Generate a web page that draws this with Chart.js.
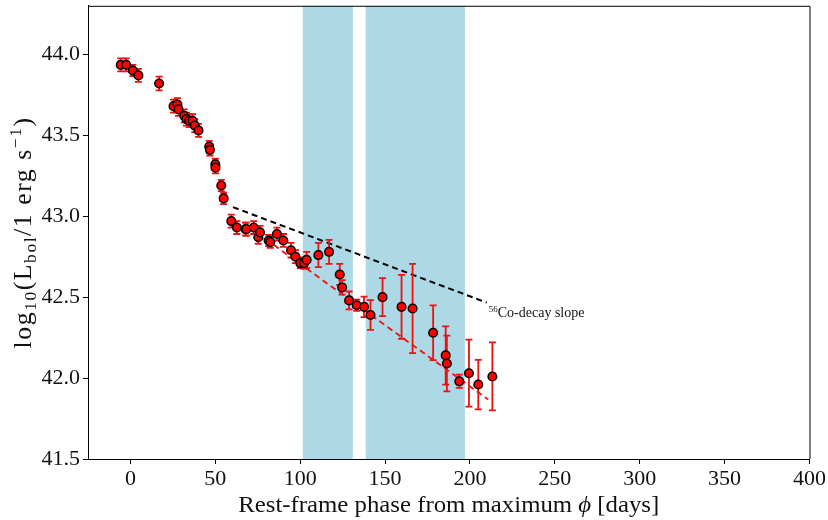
<!DOCTYPE html>
<html>
<head>
<meta charset="utf-8">
<script src="https://cdn.jsdelivr.net/npm/chart.js@4.4.1/dist/chart.umd.min.js"></script>
<style>
    html, body { margin: 0; padding: 0; background: #fff; }
    #wrap { width: 828px; height: 520px; }
</style>
</head>
<body>
<div id="wrap"><canvas id="lcChart"></canvas></div>
<script>
// rest-frame phase (days) and bolometric luminosity
const phase = [-5.7, -2.5, 1.4, 4.7, 16.9, 25.4, 27.7, 28.3, 31.7, 33.0, 34.6, 36.6, 37.9, 40.1,
    46.4, 46.8, 50.0, 50.1, 53.5, 54.9, 59.4, 62.7, 67.8, 68.3, 72.6, 75.3, 76.3, 81.4, 82.4,
    86.3, 90.1, 94.6, 97.2, 100.1, 102.2, 103.8, 110.7, 117.0, 123.3, 124.7, 128.8, 133.3,
    137.6, 141.4, 148.5, 159.7, 166.2, 178.3, 185.7, 186.4, 193.7, 199.4, 204.9, 213.2];
const logL = [43.935, 43.935, 43.90, 43.87, 43.82, 43.68, 43.69, 43.66, 43.62, 43.60, 43.59, 43.59, 43.56, 43.53,
    43.43, 43.41, 43.32, 43.30, 43.19, 43.11, 42.97, 42.93, 42.92, 42.92, 42.93, 42.87, 42.90, 42.85, 42.84,
    42.89, 42.85, 42.79, 42.75, 42.71, 42.71, 42.73, 42.76, 42.78, 42.64, 42.56, 42.48, 42.45,
    42.44, 42.39, 42.50, 42.44, 42.43, 42.28, 42.14, 42.09, 41.98, 42.03, 41.96, 42.01];
const logLErr = [0.04, 0.04, 0.035, 0.04, 0.043, 0.04, 0.04, 0.04, 0.04, 0.04, 0.04, 0.04, 0.04, 0.04,
    0.035, 0.035, 0.035, 0.035, 0.035, 0.035, 0.04, 0.04, 0.04, 0.04, 0.04, 0.04, 0.04, 0.035, 0.035,
    0.04, 0.04, 0.045, 0.04, 0.03, 0.035, 0.05, 0.075, 0.074, 0.065, 0.045, 0.055, 0.035,
    0.063, 0.092, 0.117, 0.197, 0.276, 0.169, 0.18, 0.172, 0.041, 0.207, 0.153, 0.21];

// 56Co decay slope and linear fit to the tail
const coPhase = [60.4, 209.9];
const coLogL = [43.056, 42.466];
const fitPhase = [70.2, 210.8];
const fitLogL = [42.93, 41.867];

// shaded phase ranges
const bandStart = [101.5, 138.6];
const bandEnd = [131, 197];

const xTicks = [0, 50, 100, 150, 200, 250, 300, 350, 400];
const yTicks = [41.5, 42.0, 42.5, 43.0, 43.5, 44.0];

Chart.defaults.font.family = "'Liberation Serif', serif";
Chart.defaults.color = "#111";

const toXY = (xs, ys) => xs.map((x, i) => ({ x: x, y: ys[i] }));

const bandsPlugin = {
    id: "bands",
    beforeDatasetsDraw(chart) {
        const { ctx, chartArea, scales } = chart;
        ctx.save();
        ctx.fillStyle = "#add8e6";
        bandStart.forEach((s, i) => {
            const x0 = scales.x.getPixelForValue(s);
            const x1 = scales.x.getPixelForValue(bandEnd[i]);
            ctx.fillRect(x0, chartArea.top, x1 - x0, chartArea.bottom - chartArea.top);
        });
        ctx.restore();
    }
};

const errorBarPlugin = {
    id: "errorBars",
    beforeDatasetDraw(chart, args) {
        if (args.index !== 0) return;
        const { ctx, scales } = chart;
        ctx.save();
        ctx.strokeStyle = "#f01010";
        ctx.lineWidth = 1.8;
        phase.forEach((p, i) => {
            const x = scales.x.getPixelForValue(p);
            const yTop = scales.y.getPixelForValue(logL[i] + logLErr[i]);
            const yBot = scales.y.getPixelForValue(logL[i] - logLErr[i]);
            ctx.beginPath();
            ctx.moveTo(x, yTop); ctx.lineTo(x, yBot);
            ctx.moveTo(x - 3.5, yTop); ctx.lineTo(x + 3.5, yTop);
            ctx.moveTo(x - 3.5, yBot); ctx.lineTo(x + 3.5, yBot);
            ctx.stroke();
        });
        ctx.restore();
    }
};

// draws a run of text pieces (normal / sub / sup) starting at x, baseline y
function richText(ctx, parts, x, y, draw) {
    let w = 0;
    parts.forEach(p => {
        ctx.font = (p.italic ? "italic " : "") + p.size + "px 'Liberation Serif', serif";
        if (draw) ctx.fillText(p.t, x + w, y + (p.dy || 0));
        w += ctx.measureText(p.t).width;
    });
    return w;
}

const labelsPlugin = {
    id: "labels",
    afterDraw(chart) {
        const { ctx, chartArea, scales } = chart;
        ctx.save();
        // closing frame on top and right
        ctx.strokeStyle = "#000";
        ctx.lineWidth = 1;
        ctx.beginPath();
        ctx.moveTo(chartArea.left, chartArea.top + 0.5);
        ctx.lineTo(chartArea.right + 0.5, chartArea.top + 0.5);
        ctx.lineTo(chartArea.right + 0.5, chartArea.bottom);
        ctx.stroke();

        ctx.fillStyle = "#111";
        ctx.textBaseline = "alphabetic";
        ctx.textAlign = "left";

        // y axis title, letter-spaced to match the TeX width
        ctx.letterSpacing = "1.5px";
        const yParts = [
            { t: "log", size: 25 },
            { t: "10", size: 17, dy: 5 },
            { t: "(L", size: 25 },
            { t: "bol", size: 17, dy: 5 },
            { t: "/1 erg s", size: 25 },
            { t: "\u22121", size: 17, dy: -10 },
            { t: ")", size: 25 }
        ];
        const yw = richText(ctx, yParts, 0, 0, false);
        const stretch = 232 / yw;
        ctx.save();
        ctx.translate(31, (chartArea.top + chartArea.bottom) / 2);
        ctx.rotate(-Math.PI / 2);
        ctx.scale(stretch, 1);
        richText(ctx, yParts, -yw / 2, 0, true);
        ctx.restore();
        ctx.letterSpacing = "0px";

        // x axis title
        const xParts = [
            { t: "Rest-frame phase from maximum ", size: 24 },
            { t: "\u03d5", size: 24, italic: true },
            { t: " [days]", size: 24 }
        ];
        const xw = richText(ctx, xParts, 0, 0, false);
        const xs = 421 / xw;
        ctx.save();
        ctx.translate((chartArea.left + chartArea.right) / 2, 512);
        ctx.scale(xs, 1);
        richText(ctx, xParts, -xw / 2, 0, true);
        ctx.restore();

        // 56Co annotation next to the end of the decay line
        const ax = scales.x.getPixelForValue(coPhase[1]) + 2;
        const ay = scales.y.getPixelForValue(coLogL[1]) + 14;
        richText(ctx, [
            { t: "56", size: 9, dy: -5 },
            { t: "Co-decay slope", size: 14 }
        ], ax, ay, true);
        ctx.restore();
    }
};

new Chart(document.getElementById("lcChart"), {
    data: {
        datasets: [
            {
                type: "scatter",
                label: "Lbol",
                data: toXY(phase, logL),
                backgroundColor: "#ff0000",
                borderColor: "#000",
                borderWidth: 1.5,
                pointRadius: 4.3,
                pointHoverRadius: 4.3
            },
            {
                type: "line",
                label: "fit",
                data: toXY(fitPhase, fitLogL),
                borderColor: "#ee1111",
                borderWidth: 1.8,
                borderDash: [6, 4],
                pointRadius: 0,
                fill: false
            },
            {
                type: "line",
                label: "56Co",
                data: toXY(coPhase, coLogL),
                borderColor: "#000",
                borderWidth: 2,
                borderDash: [6, 4],
                pointRadius: 0,
                fill: false
            }
        ]
    },
    options: {
        responsive: true,
        maintainAspectRatio: false,
        animation: false,
        events: [],
        layout: { padding: { top: 3, right: 18, left: 0, bottom: 0 } },
        plugins: {
            legend: { display: false },
            tooltip: { enabled: false }
        },
        scales: {
            x: {
                type: "linear",
                min: -25,
                max: 400,
                afterBuildTicks: scale => { scale.ticks = xTicks.map(v => ({ value: v })); },
                afterFit: scale => { scale.height = 61; },
                grid: { drawOnChartArea: false, color: "#000", tickLength: 5 },
                border: { color: "#000", width: 1 },
                ticks: { font: { size: 22 }, padding: 2, maxRotation: 0, color: "#111" }
            },
            y: {
                type: "linear",
                min: 41.5,
                max: 44.3,
                afterBuildTicks: scale => { scale.ticks = yTicks.map(v => ({ value: v })); },
                afterFit: scale => { scale.width = 88; scale.paddingTop = 0; scale.paddingBottom = 0; },
                grid: { drawOnChartArea: false, color: "#000", tickLength: 5 },
                border: { color: "#000", width: 1 },
                ticks: {
                    font: { size: 22 },
                    padding: 3,
                    color: "#111",
                    callback: v => v.toFixed(1)
                }
            }
        }
    },
    plugins: [bandsPlugin, errorBarPlugin, labelsPlugin]
});
</script>
</body>
</html>
